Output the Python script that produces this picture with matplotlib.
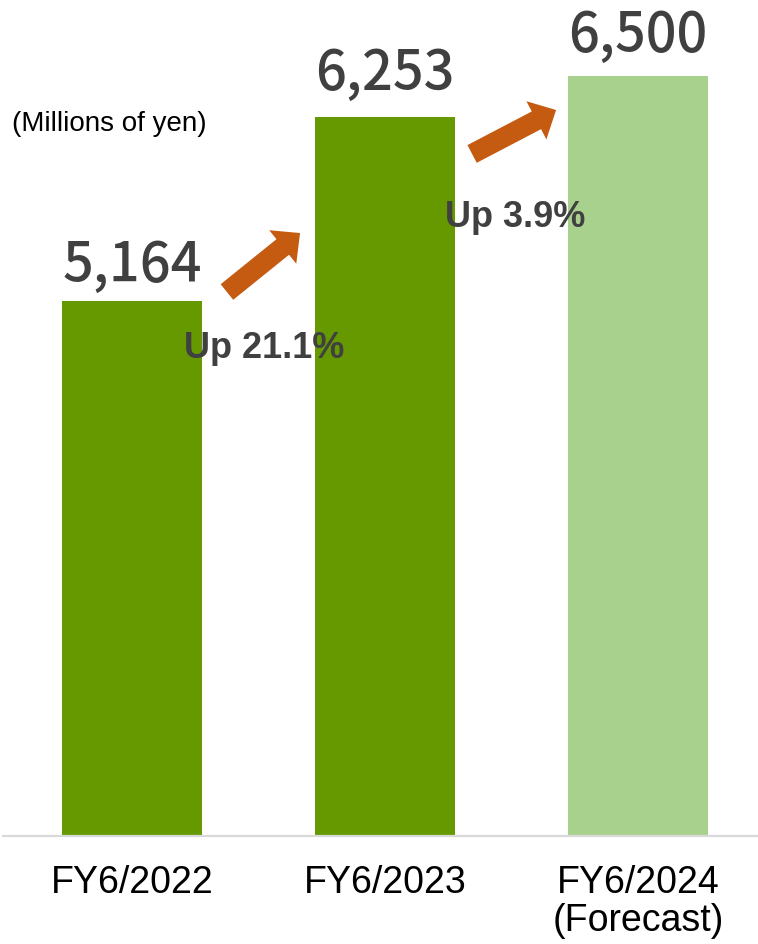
import matplotlib
matplotlib.use("Agg")
import matplotlib.pyplot as plt

categories = ["FY6/2022", "FY6/2023", "FY6/2024\n(Forecast)"]
values = [5164, 6253, 6500]
value_labels = ["5,164", "6,253", "6,500"]
growth_labels = ["Up 21.1%", "Up 3.9%"]

bar_colors = ["#669900", "#669900", "#A9D18E"]
text_color = "#404040"
arrow_color = "#C55A11"

W, H = 758, 944
fig = plt.figure(figsize=(W / 100, H / 100), dpi=100)
ax = fig.add_axes([3 / W, 108 / H, 755 / W, 836 / H])
x = list(range(len(categories)))
ax.bar(x, values, width=0.553, color=bar_colors, zorder=2)
ax.set_xlim(-0.51, 2.474)
ax.set_ylim(2000, 6947)

for s in ["top", "right", "left"]:
    ax.spines[s].set_visible(False)
ax.spines["bottom"].set_color("#D9D9D9")
ax.spines["bottom"].set_linewidth(1.6)
ax.set_yticks([])
ax.set_xticks(x)
ax.set_xticklabels(categories, fontsize=27, family="Liberation Sans",
                   color="black", linespacing=1.08)
ax.tick_params(axis="x", length=0, pad=21)

# value labels
offsets = [14, 20, 17]
for xi, v, lab, off in zip(x, values, value_labels, offsets):
    ax.annotate(lab, xy=(xi, v), xytext=(0, off), textcoords="offset points",
                ha="center", va="baseline", fontsize=39, fontweight="medium",
                family=["Noto Sans CJK JP", "DejaVu Sans"], color=text_color)

# growth arrows
arrows = [((0.375, 5219), (0.664, 5568)), ((1.344, 6036), (1.676, 6296))]
for (tail, tip) in arrows:
    ax.annotate("", xy=tip, xytext=tail,
                arrowprops=dict(arrowstyle="simple,head_length=0.8,head_width=1.55,tail_width=0.72",
                                mutation_scale=20, color=arrow_color,
                                shrinkA=0, shrinkB=0, lw=0), zorder=3)

growth_pos = [(0.522, 4828), (1.514, 5604)]
for (gx, gy), lab in zip(growth_pos, growth_labels):
    ax.text(gx, gy, lab, ha="center", va="baseline", fontsize=26,
            fontweight="bold", family="Liberation Sans", color=text_color, zorder=4)

fig.text(12 / W, 1 - 131 / H, "(Millions of yen)", ha="left", va="baseline",
         fontsize=20, family="Liberation Sans", color="black")

fig.savefig("out.png", dpi=100)
